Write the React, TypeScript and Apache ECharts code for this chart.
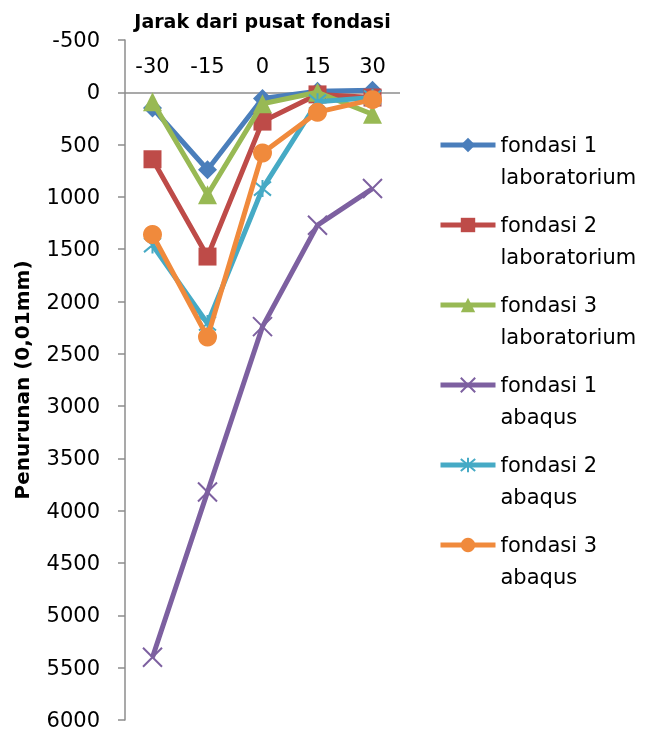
import React, { useEffect, useRef } from "react";
import * as echarts from "echarts";

const categories = ["-30", "-15", "0", "15", "30"];
const seriesNames = [
  "fondasi 1\nlaboratorium",
  "fondasi 2\nlaboratorium",
  "fondasi 3\nlaboratorium",
  "fondasi 1\nabaqus",
  "fondasi 2\nabaqus",
  "fondasi 3\nabaqus",
];
const f1Lab = [150, 740, 60, -10, -20];
const f2Lab = [640, 1570, 280, 20, 50];
const f3Lab = [90, 980, 110, 0, 210];
const f1Abaqus = [5400, 3820, 2240, 1270, 920];
const f2Abaqus = [1460, 2210, 920, 90, 50];
const f3Abaqus = [1360, 2340, 580, 190, 70];
const seriesValues = [f1Lab, f2Lab, f3Lab, f1Abaqus, f2Abaqus, f3Abaqus];
const colors = ["#4A7EBB", "#BE4B48", "#98B954", "#7D60A0", "#46AAC5", "#F08A3C"];
const symbols = [
  "diamond",
  "rect",
  "triangle",
  "path://M0,0 L10,10 M10,0 L0,10",
  "path://M0,0 L10,10 M10,0 L0,10 M5,-1 L5,11",
  "circle",
];
const symbolSizes = [19, 18, 19, 19, 17, 19];

const FONT = "DejaVu Sans";

export default function App() {
  const ref = useRef<HTMLDivElement>(null);
  useEffect(() => {
    if (!ref.current) return;
    const chart = echarts.init(ref.current, null, { renderer: "svg" });
    const series = seriesValues.map((vals, i) => {
      const isStroke = i === 3 || i === 4;
      return {
        name: seriesNames[i],
        type: "line",
        data: vals,
        symbol: symbols[i],
        symbolSize: symbolSizes[i],
        showAllSymbol: true,
        lineStyle: { color: colors[i], width: 5 },
        itemStyle: isStroke
          ? { color: colors[i], borderColor: colors[i], borderWidth: 2 }
          : { color: colors[i] },
        z: 2 + i,
        markLine:
          i === 0
            ? {
                silent: true,
                symbol: "none",
                label: { show: false },
                lineStyle: { color: "#8C8C8C", width: 1.5, type: "solid" },
                data: [{ yAxis: 0 }],
                z: 1,
              }
            : undefined,
      };
    });
    chart.setOption({
      animation: false,
      color: colors,
      grid: {
        left: 125,
        right: 257,
        top: 40,
        bottom: 13,
        containLabel: false,
        outerBoundsMode: "none",
      },
      xAxis: {
        type: "category",
        data: categories,
        position: "top",
        offset: -52,
        boundaryGap: true,
        axisLine: { show: false, onZero: false },
        axisTick: { show: false },
        axisLabel: { color: "#000", fontFamily: FONT, fontSize: 21, margin: 16 },
        splitLine: { show: false },
        name: "Jarak dari pusat fondasi",
        nameLocation: "middle",
        nameGap: 62,
        nameTextStyle: { color: "#000", fontFamily: FONT, fontSize: 19, fontWeight: "bold" },
      },
      yAxis: {
        type: "value",
        inverse: true,
        min: -500,
        max: 6000,
        interval: 500,
        axisLine: { show: true, lineStyle: { color: "#8C8C8C", width: 1.5 } },
        axisTick: { show: true, length: 7, lineStyle: { color: "#8C8C8C", width: 1.5 } },
        axisLabel: {
          color: "#000",
          fontFamily: FONT,
          fontSize: 21,
          margin: 25,
          formatter: (v: number) => String(v),
        },
        splitLine: { show: false },
        name: "Penurunan (0,01mm)",
        nameLocation: "middle",
        nameGap: 93,
        nameTextStyle: { color: "#000", fontFamily: FONT, fontSize: 20, fontWeight: "bold" },
      },
      legend: {
        orient: "vertical",
        left: 438,
        top: 97,
        padding: 0,
        itemWidth: 55,
        itemHeight: 18,
        itemGap: -16,
        lineStyle: { width: 5 },
        formatter: (name: string) => "\n" + name,
        textStyle: {
          color: "#000",
          fontFamily: FONT,
          fontSize: 21,
          lineHeight: 32,
        },
        data: seriesNames,
      },
      series,
    });
    return () => chart.dispose();
  }, []);
  return (
    <div
      ref={ref}
      style={{ position: "fixed", left: 0, top: 0, width: 657, height: 733 }}
    />
  );
}
